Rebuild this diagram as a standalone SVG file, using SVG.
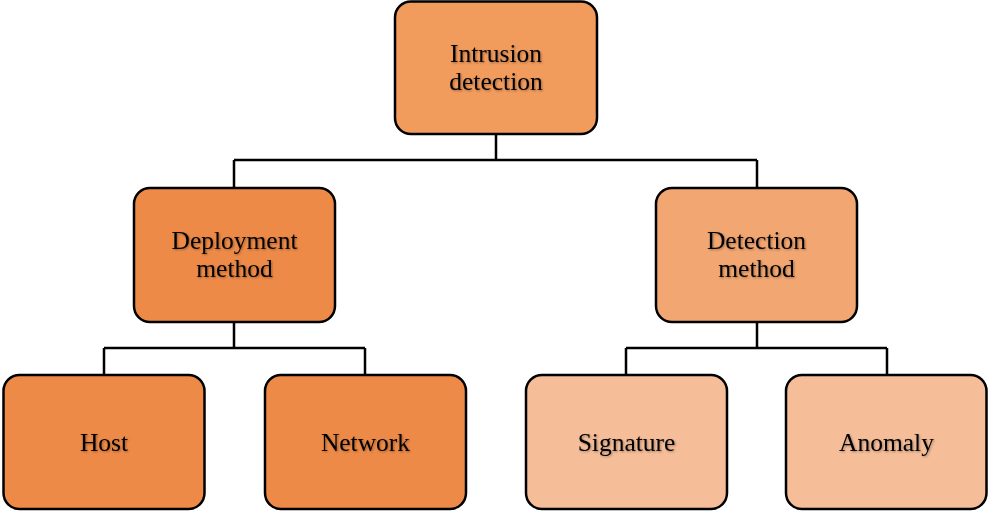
<svg xmlns="http://www.w3.org/2000/svg" width="988" height="513" viewBox="0 0 988 513">
<defs>
<filter id="ts" x="-10%" y="-10%" width="130%" height="140%">
<feGaussianBlur in="SourceAlpha" stdDeviation="1"/>
<feOffset dx="1.2" dy="1.2" result="b"/>
<feComponentTransfer><feFuncA type="linear" slope="0.35"/></feComponentTransfer>
<feMerge><feMergeNode/><feMergeNode in="SourceGraphic"/></feMerge>
</filter>
</defs>
<style>
.box{stroke:#000;stroke-width:2.5}
.c1{fill:#F19B5D}
.c2{fill:#EE8A47}
.c3{fill:#F2A671}
.c4{fill:#F5BD98}
text{font-family:"Liberation Serif","Times New Roman",serif;font-size:25.5px;fill:#000;text-anchor:middle;filter:url(#ts)}
.wire{fill:none;stroke:#000;stroke-width:2.5}
</style>
<g id="connectors">
<path class="wire" d="M496,134 V160 M234,160 H757 M234,160 V188 M757,160 V188"/>
<path class="wire" d="M234,322 V348 M104,348 H365 M104,348 V375 M365,348 V375"/>
<path class="wire" d="M757,322 V348 M626,348 H887 M626,348 V375 M887,348 V375"/>
</g>
<g id="intrusion-detection">
<rect class="box c1" x="395" y="1.5" width="202" height="132.5" rx="16"/>
<text x="496" y="62">Intrusion</text>
<text x="496" y="90">detection</text>
</g>
<g id="deployment-method">
<rect class="box c2" x="134" y="188" width="201" height="134" rx="16"/>
<text x="234.5" y="249">Deployment</text>
<text x="234.5" y="277">method</text>
</g>
<g id="detection-method">
<rect class="box c3" x="656" y="188" width="201" height="134" rx="16"/>
<text x="756.5" y="249">Detection</text>
<text x="756.5" y="277">method</text>
</g>
<g id="host">
<rect class="box c2" x="3.5" y="375" width="201" height="134" rx="16"/>
<text x="104" y="451">Host</text>
</g>
<g id="network">
<rect class="box c2" x="265" y="375" width="201" height="134" rx="16"/>
<text x="365.5" y="451">Network</text>
</g>
<g id="signature">
<rect class="box c4" x="526" y="375" width="201" height="134" rx="16"/>
<text x="626.5" y="451">Signature</text>
</g>
<g id="anomaly">
<rect class="box c4" x="786" y="375" width="200.5" height="134" rx="16"/>
<text x="886.5" y="451">Anomaly</text>
</g>
</svg>
